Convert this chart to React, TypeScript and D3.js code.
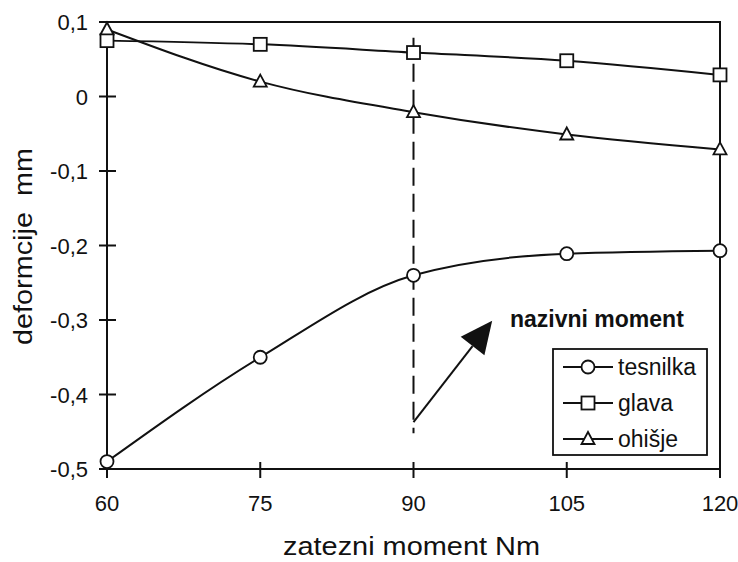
import React, { useEffect, useRef } from 'react';
import * as d3 from 'd3';

// x values (tightening moment, Nm)
const moments = [60, 75, 90, 105, 120];
// deformation, mm
const tesnilka = [-0.49, -0.35, -0.24, -0.211, -0.207];
const glava = [0.075, 0.07, 0.059, 0.048, 0.029];
const ohisje = [0.09, 0.02, -0.021, -0.051, -0.071];

const yTicks = [0.1, 0, -0.1, -0.2, -0.3, -0.4, -0.5];
const seriesNames = ['tesnilka', 'glava', 'ohišje'];
const markers = ['circle', 'square', 'triangle'];

const W = 738;
const H = 562;
const FONT = 'Arial, "Liberation Sans", sans-serif';

const App = () => {
    const svgRef = useRef<SVGSVGElement>(null);

    useEffect(() => {
        const svg = d3.select(svgRef.current);
        svg.selectAll('*').remove();

        const x = d3.scaleLinear().domain([60, 120]).range([107, 720]);
        const y = d3.scaleLinear().domain([-0.5, 0.1]).range([469, 22]);
        // comma decimal, plain hyphen for minus
        const fmt = (v: number) => String(v).replace('.', ',');

        const g = svg.append('g');

        // frame
        g.append('rect')
            .attr('x', x(60)).attr('y', y(0.1))
            .attr('width', x(120) - x(60)).attr('height', y(-0.5) - y(0.1))
            .attr('fill', 'none').attr('stroke', '#111').attr('stroke-width', 2);

        // y ticks
        yTicks.forEach(t => {
            g.append('line')
                .attr('x1', x(60) - 8).attr('x2', x(60) + 9)
                .attr('y1', y(t)).attr('y2', y(t))
                .attr('stroke', '#111').attr('stroke-width', 2);
            g.append('text')
                .attr('x', x(60) - 19).attr('y', y(t) + 8)
                .attr('text-anchor', 'end')
                .style('font-family', FONT).style('font-size', '22px').attr('fill', '#111')
                .text(fmt(t));
        });

        // x ticks
        moments.forEach(m => {
            g.append('line')
                .attr('x1', x(m)).attr('x2', x(m))
                .attr('y1', y(-0.5) - 7).attr('y2', y(-0.5) + 9)
                .attr('stroke', '#111').attr('stroke-width', 2);
            g.append('text')
                .attr('x', x(m)).attr('y', y(-0.5) + 42)
                .attr('text-anchor', 'middle')
                .style('font-family', FONT).style('font-size', '22px').attr('fill', '#111')
                .text(m);
        });

        // axis titles
        g.append('text')
            .attr('x', 283).attr('y', 555)
            .attr('textLength', 257).attr('lengthAdjust', 'spacingAndGlyphs')
            .style('font-family', FONT).style('font-size', '25px').attr('fill', '#111')
            .text('zatezni moment Nm');
        g.append('text')
            .attr('transform', 'translate(32,345) rotate(-90)')
            .attr('textLength', 197).attr('lengthAdjust', 'spacingAndGlyphs')
            .style('font-family', FONT).style('font-size', '26px').style('white-space', 'pre').attr('fill', '#111')
            .text('deformcije  mm');

        // dashed reference line at nominal moment
        g.append('line')
            .attr('x1', x(90)).attr('x2', x(90))
            .attr('y1', y(0.079)).attr('y2', y(-0.452))
            .attr('stroke', '#111').attr('stroke-width', 2)
            .attr('stroke-dasharray', '18,8');

        // arrow
        const ax0 = x(90), ay0 = y(-0.437);
        const ax1 = x(97.7), ay1 = y(-0.301);
        const ang = Math.atan2(ay1 - ay0, ax1 - ax0);
        const L = 32, Wd = 15;
        const bx = ax1 - L * Math.cos(ang), by = ay1 - L * Math.sin(ang);
        const px = -Math.sin(ang) * Wd, py = Math.cos(ang) * Wd;
        g.append('line')
            .attr('x1', ax0).attr('y1', ay0).attr('x2', bx).attr('y2', by)
            .attr('stroke', '#111').attr('stroke-width', 2);
        g.append('path')
            .attr('d', `M${ax1},${ay1}L${bx + px},${by + py}L${bx - px},${by - py}Z`)
            .attr('fill', '#111');

        g.append('text')
            .attr('x', 510).attr('y', 327)
            .style('font-family', FONT).style('font-size', '23px').style('font-weight', 'bold').attr('fill', '#111')
            .text('nazivni moment');

        const line = d3.line<number>()
            .x((_, i) => x(moments[i]))
            .y(d => y(d))
            .curve(d3.curveMonotoneX);

        const drawMarker = (sel: any, type: string, cx: number, cy: number) => {
            if (type === 'circle') {
                sel.append('circle').attr('cx', cx).attr('cy', cy).attr('r', 6.5)
                    .attr('fill', 'white').attr('stroke', '#111').attr('stroke-width', 1.8);
            } else if (type === 'square') {
                sel.append('rect').attr('x', cx - 6.5).attr('y', cy - 6.5).attr('width', 13).attr('height', 13)
                    .attr('fill', 'white').attr('stroke', '#111').attr('stroke-width', 1.8);
            } else {
                sel.append('path').attr('d', `M${cx},${cy - 7}L${cx + 6.5},${cy + 5}L${cx - 6.5},${cy + 5}Z`)
                    .attr('fill', 'white').attr('stroke', '#111').attr('stroke-width', 1.8);
            }
        };

        [tesnilka, glava, ohisje].forEach((s, k) => {
            g.append('path').datum(s)
                .attr('d', line)
                .attr('fill', 'none').attr('stroke', '#111').attr('stroke-width', 2);
            s.forEach((v, i) => drawMarker(g, markers[k], x(moments[i]), y(v)));
        });

        // legend
        const lg = g.append('g');
        lg.append('rect')
            .attr('x', 553).attr('y', 349).attr('width', 154).attr('height', 106)
            .attr('fill', 'white').attr('stroke', '#111').attr('stroke-width', 1.8);
        seriesNames.forEach((n, i) => {
            const ly = 367 + i * 36;
            lg.append('line').attr('x1', 563).attr('x2', 613).attr('y1', ly).attr('y2', ly)
                .attr('stroke', '#111').attr('stroke-width', 1.8);
            drawMarker(lg, markers[i], 588, ly);
            lg.append('text')
                .attr('x', 618).attr('y', ly + 8)
                .style('font-family', FONT).style('font-size', '23px').attr('fill', '#111')
                .text(n);
        });
    }, []);

    return (
        <svg ref={svgRef} width={W} height={H}
            style={{ position: 'absolute', left: 0, top: 0, background: 'white' }} />
    );
};

export default App;
